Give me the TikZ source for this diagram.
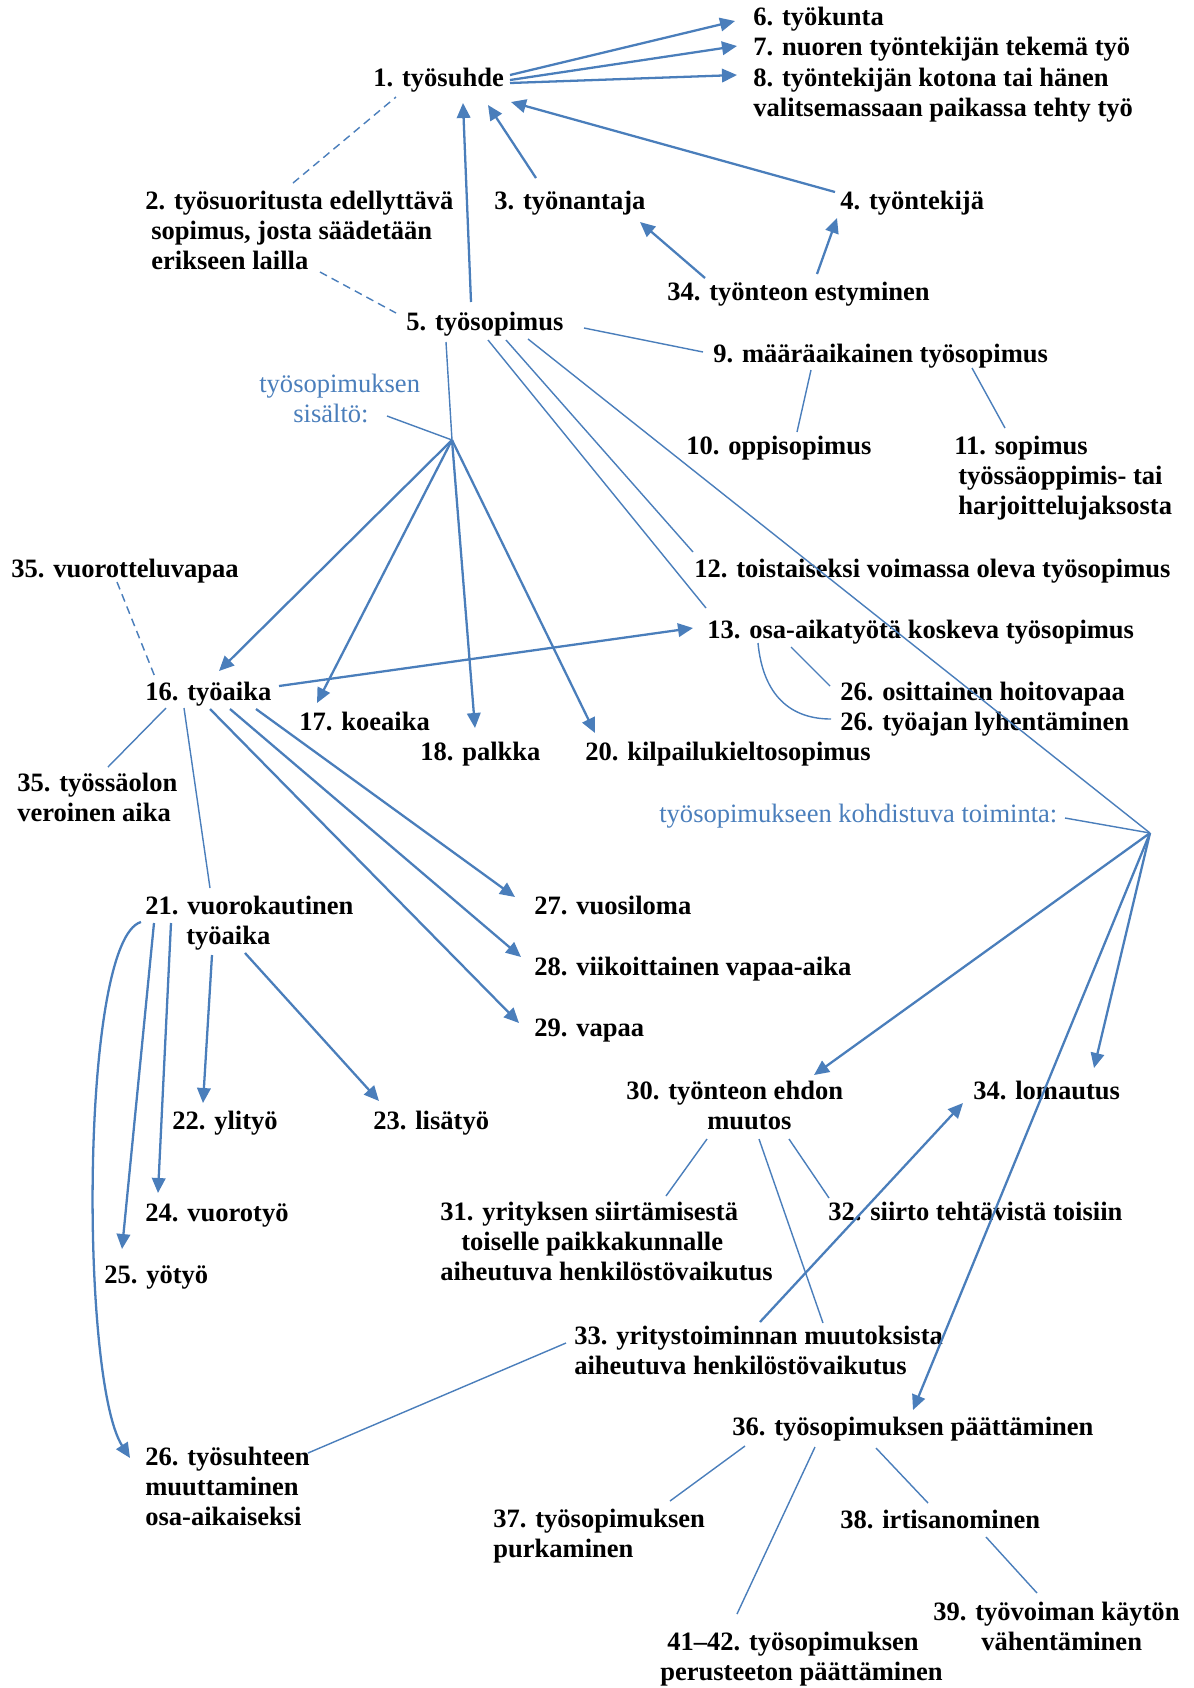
\documentclass[tikz,border=0pt]{standalone}
\usepackage{fontspec}
\setmainfont{Liberation Serif}
\usetikzlibrary{arrows.meta}
\definecolor{linkblue}{RGB}{74,126,187}

\begin{document}
\begin{tikzpicture}[
    x=0.02cm, y=-0.02cm,
    every node/.style={inner sep=0pt, anchor=north west},
    term/.style={font=\bfseries\fontsize{15.1}{17.1}\selectfont, align=left},
    note/.style={font=\fontsize{15.1}{17.1}\selectfont, text=linkblue, align=left},
    arrow/.style={-{Triangle[length=0.3cm, width=0.27cm]}, linkblue, line width=1.3pt},
    link/.style={linkblue, line width=0.8pt},
    dlink/.style={link, dash pattern=on 4.5pt off 3pt}
]
    \useasboundingbox (0,0) rectangle (1194,1688);

    % Tyosuhde
    \node[term] (n1) at (373,68) {1. työsuhde};
    \node[term] (n6) at (753,7) {6. työkunta};
    \node[term] (n7) at (753,37) {7. nuoren työntekijän tekemä työ};
    \node[term] (n8) at (753,68) {8. työntekijän kotona tai hänen\\valitsemassaan paikassa tehty työ};
    \node[term] (n2) at (145,191) {2. työsuoritusta edellyttävä\\\hspace*{0.12cm}sopimus, josta säädetään\\\hspace*{0.12cm}erikseen lailla};
    \node[term] (n3) at (494,191) {3. työnantaja};
    \node[term] (n4) at (840,191) {4. työntekijä};
    \node[term] (n34a) at (667,282) {34. työnteon estyminen};

    % Tyosopimus
    \node[term] (n5) at (406,312) {5. työsopimus};
    \node[term] (n9) at (713,344) {9. määräaikainen työsopimus};
    \node[note] (lab1) at (259,374) {työsopimuksen\\\hspace*{0.68cm}sisältö:};
    \node[term] (n10) at (686,436) {10. oppisopimus};
    \node[term] (n11) at (954,436) {11. sopimus\\\hspace*{0.08cm}työssäoppimis- tai\\\hspace*{0.08cm}harjoittelujaksosta};
    \node[term] (n12) at (694,559) {12. toistaiseksi voimassa oleva työsopimus};
    \node[term] (n13) at (707,620) {13. osa-aikatyötä koskeva työsopimus};
    \node[term] (n26a) at (840,682) {26. osittainen hoitovapaa};
    \node[term] (n26b) at (840,712) {26. työajan lyhentäminen};

    % Sisalto
    \node[term] (n35a) at (11,559) {35. vuorotteluvapaa};
    \node[term] (n16) at (145,682) {16. työaika};
    \node[term] (n17) at (299,712) {17. koeaika};
    \node[term] (n18) at (420,742) {18. palkka};
    \node[term] (n20) at (585,742) {20. kilpailukieltosopimus};
    \node[term] (n35b) at (17,773) {35. työssäolon\\veroinen aika};
    \node[term] (n21) at (145,896) {21. vuorokautinen\\\hspace*{0.82cm}työaika};
    \node[term] (n27) at (534,896) {27. vuosiloma};
    \node[term] (n28) at (534,957) {28. viikoittainen vapaa-aika};
    \node[term] (n29) at (534,1019) {29. vapaa};
    \node[term] (n22) at (172,1111) {22. ylityö};
    \node[term] (n23) at (373,1111) {23. lisätyö};
    \node[term] (n24) at (145,1203) {24. vuorotyö};
    \node[term] (n25) at (104,1265) {25. yötyö};
    \node[term] (n26c) at (145,1447) {26. työsuhteen\\muuttaminen\\osa-aikaiseksi};

    % Toiminta
    \node[note] (lab2) at (659,804) {työsopimukseen kohdistuva toiminta:};
    \node[term] (n30) at (626,1081) {30. työnteon ehdon\\\hspace*{1.62cm}muutos};
    \node[term] (n34b) at (973,1081) {34. lomautus};
    \node[term] (n31) at (440,1202) {31. yrityksen siirtämisestä\\\hspace*{0.42cm}toiselle paikkakunnalle\\aiheutuva henkilöstövaikutus};
    \node[term] (n32) at (828,1202) {32. siirto tehtävistä toisiin};
    \node[term] (n33) at (574,1326) {33. yritystoiminnan muutoksista\\aiheutuva henkilöstövaikutus};
    \node[term] (n36) at (732,1417) {36. työsopimuksen päättäminen};
    \node[term] (n37) at (493,1509) {37. työsopimuksen\\purkaminen};
    \node[term] (n38) at (840,1510) {38. irtisanominen};
    \node[term] (n39) at (933,1602) {39. työvoiman käytön\\\hspace*{0.96cm}vähentäminen};
    \node[term] (n4142) at (660,1632) {\hspace*{0.14cm}41--42. työsopimuksen\\perusteeton päättäminen};

    % Haarakohdat
    \coordinate (hub1) at (452,440);
    \coordinate (hub2) at (1150,833);

    % Arrows around tyosuhde
    \foreach \n/\sy/\ex/\ey in {n6/7/-18/14, n7/12/-16/9, n8/15/-16/7}
        \draw[arrow] ([shift={(137,\sy)}]n1.north west) -- ([shift={(\ex,\ey)}]\n.north west);
    \draw[arrow] ([shift={(65,-10)}]n5.north west) -- ([shift={(90,35)}]n1.north west);
    \draw[arrow] ([shift={(42,-13)}]n3.north west) -- ([shift={(115,37)}]n1.north west);
    \draw[arrow] ([shift={(-5,1)}]n4.north west) -- ([shift={(138,34)}]n1.north west);
    \draw[arrow] ([shift={(38,-4)}]n34a.north west) -- ([shift={(146,31)}]n3.north west);
    \draw[arrow] ([shift={(150,-8)}]n34a.north west) -- ([shift={(-3,27)}]n4.north west);
    \draw[dlink] ([shift={(148,-8)}]n2.north west) -- ([shift={(23,29)}]n1.north west);
    \draw[dlink] ([shift={(175,81)}]n2.north west) -- ([shift={(-10,1)}]n5.north west);

    % Tyosopimuksen lajit
    \draw[link] ([shift={(178,16)}]n5.north west) -- ([shift={(-10,8)}]n9.north west);
    \draw[link] ([shift={(98,26)}]n9.north west) -- ([shift={(111,-4)}]n10.north west);
    \draw[link] ([shift={(259,24)}]n9.north west) -- ([shift={(51,-8)}]n11.north west);
    \draw[link] ([shift={(100,28)}]n5.north west) -- ([shift={(-1,-7)}]n12.north west);
    \draw[link] ([shift={(82,28)}]n5.north west) -- ([shift={(-1,-12)}]n13.north west);
    \draw[link] ([shift={(84,27)}]n13.north west) -- ([shift={(-10,4)}]n26a.north west);
    \draw[link] ([shift={(51,23)}]n13.north west) .. controls +(5,52) and +(-41,0) .. ([shift={(-9,7)}]n26b.north west);

    % Sisalto
    \draw[link] ([shift={(40,30)}]n5.north west) -- (hub1);
    \draw[link] ([shift={(128,42)}]lab1.north west) -- (hub1);
    \foreach \n/\ex/\ey in {n16/74/-11, n17/18/-9, n18/55/-14, n20/10/-9}
        \draw[arrow] (hub1) -- ([shift={(\ex,\ey)}]\n.north west);
    \draw[dlink] ([shift={(106,23)}]n35a.north west) -- ([shift={(10,-5)}]n16.north west);
    \draw[link] ([shift={(21,26)}]n16.north west) -- ([shift={(91,-6)}]n35b.north west);
    \draw[link] ([shift={(39,26)}]n16.north west) -- ([shift={(65,-8)}]n21.north west);
    \draw[arrow] ([shift={(134,4)}]n16.north west) -- ([shift={(-14,8)}]n13.north west);
    \foreach \n/\sx/\ex/\ey in {n27/111/-19/1, n28/85/-13/0, n29/65/-15/4}
        \draw[arrow] ([shift={(\sx,27)}]n16.north west) -- ([shift={(\ex,\ey)}]\n.north west);

    % Vuorokautinen tyoaika
    \draw[arrow] ([shift={(67,59)}]n21.north west) -- ([shift={(31,-8)}]n22.north west);
    \draw[arrow] ([shift={(100,57)}]n21.north west) -- ([shift={(6,-10)}]n23.north west);
    \draw[arrow] ([shift={(26,27)}]n21.north west) -- ([shift={(13,-10)}]n24.north west);
    \draw[arrow] ([shift={(9,27)}]n21.north west) -- ([shift={(18,-16)}]n25.north west);
    \draw[arrow] ([shift={(-4,26)}]n21.north west) .. controls +(-61,18) and +(-50,-78) .. ([shift={(-15,11)}]n26c.north west);

    % Toiminta
    \draw[link] ([shift={(122,27)}]n5.north west) -- (hub2);
    \draw[link] ([shift={(406,14)}]lab2.north west) -- (hub2);
    \foreach \n/\ex/\ey in {n30/188/-6, n34b/121/-13, n36/181/-7}
        \draw[arrow] (hub2) -- ([shift={(\ex,\ey)}]\n.north west);
    \draw[link] ([shift={(81,58)}]n30.north west) -- ([shift={(226,-6)}]n31.north west);
    \draw[link] ([shift={(163,58)}]n30.north west) -- ([shift={(1,-4)}]n32.north west);
    \draw[link] ([shift={(133,58)}]n30.north west) -- ([shift={(249,-3)}]n33.north west);
    \draw[arrow] ([shift={(186,-4)}]n33.north west) -- ([shift={(-10,22)}]n34b.north west);
    \draw[link] ([shift={(-8,17)}]n33.north west) -- ([shift={(163,6)}]n26c.north west);

    % Paattaminen
    \draw[link] ([shift={(13,29)}]n36.north west) -- ([shift={(177,-8)}]n37.north west);
    \draw[link] ([shift={(83,30)}]n36.north west) -- ([shift={(77,-18)}]n4142.north west);
    \draw[link] ([shift={(144,31)}]n36.north west) -- ([shift={(88,-7)}]n38.north west);
    \draw[link] ([shift={(146,27)}]n38.north west) -- ([shift={(104,-9)}]n39.north west);
\end{tikzpicture}
\end{document}
